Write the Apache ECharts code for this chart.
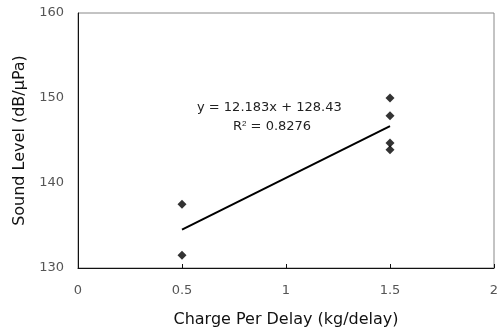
<!DOCTYPE html>
<html><head><meta charset="utf-8">
<script src="https://cdn.jsdelivr.net/npm/echarts@6/dist/echarts.min.js"></script>
<style>html,body{margin:0;padding:0;background:#fff}#c{width:504px;height:333px}</style>
</head><body><div id="c"></div>
<script>
var pointsX = [0.5, 0.5, 1.5, 1.5, 1.5, 1.5];
var pointsY = [137.5, 131.5, 150.0, 147.9, 144.7, 143.9];
var trendX = [0.5, 1.5];
var trendY = [134.52, 146.70];
var xTicks = [0, 0.5, 1, 1.5, 2];
var yTicks = [130, 140, 150, 160];
var eqText = 'y = 12.183x + 128.43';
var r2Text = 'R{sup|2} = 0.8276';

var chart = echarts.init(document.getElementById('c'));
var font = 'DejaVu Sans, sans-serif';
chart.setOption({
  animation: false,
  grid: {left: 78, right: 10, top: 13, bottom: 62, show: true, borderColor: '#888', borderWidth: 1},
  xAxis: {
    type: 'value', min: 0, max: 2, interval: 0.5,
    name: 'Charge Per Delay (kg/delay)', nameLocation: 'middle', nameGap: 44,
    nameTextStyle: {fontFamily: font, fontSize: 16, color: '#111'},
    axisLine: {lineStyle: {color: '#111', width: 1}},
    axisTick: {inside: true, length: 4, lineStyle: {color: '#111'}},
    axisLabel: {fontFamily: font, fontSize: 13, color: '#555', margin: 16},
    splitLine: {show: false}
  },
  yAxis: {
    type: 'value', min: 130, max: 160, interval: 10,
    name: 'Sound Level (dB/\u03bcPa)', nameLocation: 'middle', nameGap: 48,
    nameTextStyle: {fontFamily: font, fontSize: 16, color: '#111'},
    axisLine: {show: true, lineStyle: {color: '#111', width: 1}},
    axisTick: {show: false},
    axisLabel: {fontFamily: font, fontSize: 13, color: '#555', margin: 14},
    splitLine: {show: false}
  },
  series: [
    {type: 'scatter', symbol: 'diamond', symbolSize: 9, itemStyle: {color: '#000'},
     data: pointsX.map(function(x, i){ return [x, pointsY[i]]; })},
    {type: 'line', symbol: 'none', lineStyle: {color: '#000', width: 2},
     data: trendX.map(function(x, i){ return [x, trendY[i]]; })}
  ],
  graphic: [
    {type: 'text', left: 197, top: 101, style: {text: eqText, font: '13px ' + font, fill: '#222'}},
    {type: 'text', left: 233, top: 120, style: {text: r2Text, font: '13px ' + font, fill: '#222',
      rich: {sup: {fontSize: 8, verticalAlign: 'top', padding: [0,0,6,0], fill: '#222'}}}}
  ]
});
</script></body></html>
